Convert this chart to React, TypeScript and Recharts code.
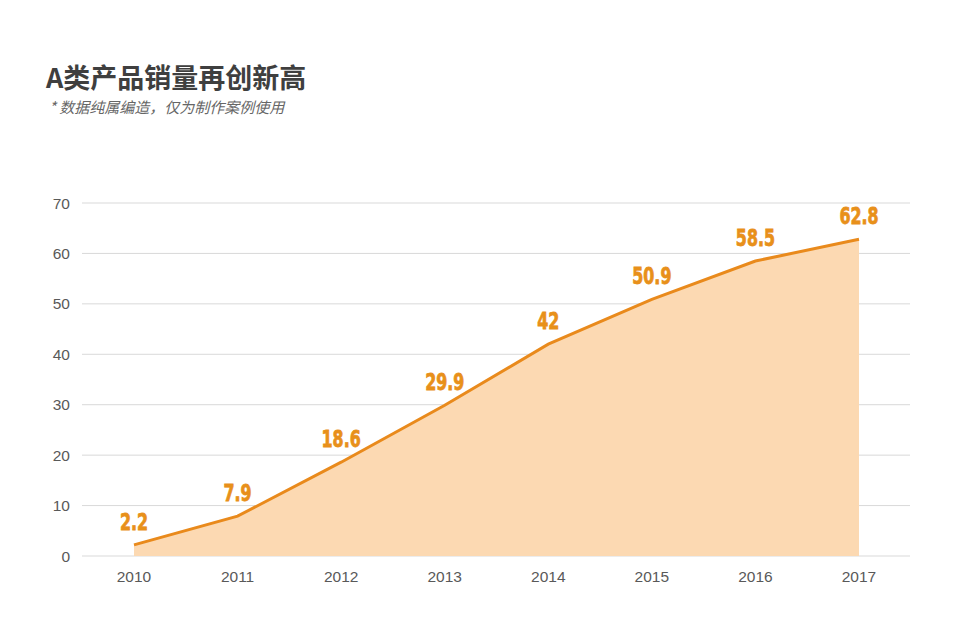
import { AreaChart, Area, XAxis, YAxis, CartesianGrid, LabelList } from 'recharts';

// 年份与销量
const years = ['2010', '2011', '2012', '2013', '2014', '2015', '2016', '2017'];
const sales = [2.2, 7.9, 18.6, 29.9, 42, 50.9, 58.5, 62.8];
const yTicks = [0, 10, 20, 30, 40, 50, 60, 70];

const data = years.map((year, i) => ({ year, value: sales[i] }));

const ORANGE = '#E98A1C';

// 数值标签：窄而粗的字体，用横向压缩模拟
const renderValueLabel = ({ x, y, value }: any) => (
  <text
    x={0}
    y={0}
    transform={`translate(${x}, ${y - 23}) scale(0.84, 1.12)`}
    textAnchor="middle"
    dominantBaseline="central"
    fill="#E8901A"
    stroke="#E8901A"
    strokeWidth={0.7}
    fontSize={21}
    fontWeight={700}
    fontFamily='"DejaVu Sans Condensed", "DejaVu Sans", sans-serif'
  >
    {value}
  </text>
);

export default function App() {
  return (
    <div style={{ position: 'absolute', left: 0, top: 0, width: 960, height: 623, background: '#fff', overflow: 'hidden' }}>
      <div
        style={{
          position: 'absolute',
          left: 46,
          top: 60,
          fontFamily: '"Noto Sans CJK SC", sans-serif',
          fontWeight: 700,
          fontSize: 27,
          color: '#3f3f3f',
          lineHeight: '34px',
        }}
      >
        A类产品销量再创新高
      </div>
      <div
        style={{
          position: 'absolute',
          left: 49,
          top: 97,
          fontFamily: '"Noto Sans CJK SC", sans-serif',
          fontStyle: 'italic',
          fontSize: 15,
          color: '#666',
          lineHeight: '20px',
        }}
      >
        * 数据纯属编造，仅为制作案例使用
      </div>

      <div style={{ position: 'absolute', left: 0, top: 0 }}>
        <AreaChart width={960} height={623} data={data} margin={{ top: 203, right: 50, bottom: 0, left: 0 }}>
          <CartesianGrid vertical={false} stroke="#d9d9d9" />
          <XAxis
            dataKey="year"
            axisLine={false}
            tickLine={false}
            padding={{ left: 52, right: 51 }}
            height={67}
            tickMargin={9}
            tick={{ fill: '#595959', fontSize: 15.5, fontFamily: 'Arial, "Liberation Sans", sans-serif' }}
          />
          <YAxis
            domain={[0, 70]}
            ticks={yTicks}
            width={82}
            axisLine={false}
            tickLine={false}
            tickMargin={6}
            tick={{ fill: '#595959', fontSize: 15.5, fontFamily: 'Arial, "Liberation Sans", sans-serif' }}
          />
          <Area
            type="linear"
            dataKey="value"
            stroke={ORANGE}
            strokeWidth={3}
            fill="#FCD9B2"
            fillOpacity={1}
            dot={false}
            activeDot={false}
            isAnimationActive={false}
          >
            <LabelList dataKey="value" content={renderValueLabel} />
          </Area>
        </AreaChart>
      </div>
    </div>
  );
}
